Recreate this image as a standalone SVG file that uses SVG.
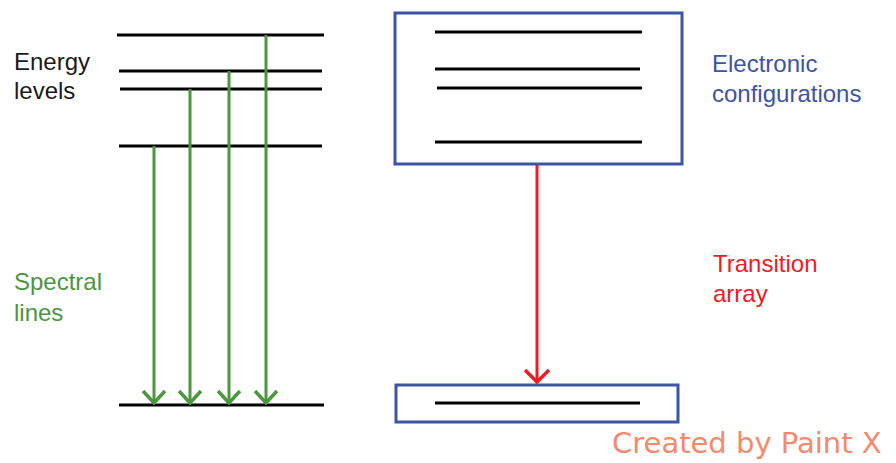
<svg xmlns="http://www.w3.org/2000/svg" width="896" height="463" viewBox="0 0 896 463">
<style>
.lvl{stroke:#000;stroke-width:3;fill:none}
.box{fill:#fff;stroke:#3b54a5;stroke-width:3}
.g{stroke:#4b963f;stroke-width:3;fill:none}
.r{stroke:#ee1c24;stroke-width:3;fill:none}
.t{font-family:"Liberation Sans",Arial,sans-serif;font-size:24px}
</style>
<defs>
<marker id="ag" markerWidth="24" markerHeight="16" refX="12" refY="14" markerUnits="userSpaceOnUse" orient="0">
<path d="M1,2 L12,14 L23,2" stroke="#4b963f" stroke-width="3.5" fill="none"/>
</marker>
<marker id="ar" markerWidth="26" markerHeight="16" refX="13" refY="14" markerUnits="userSpaceOnUse" orient="0">
<path d="M1,2 L13,14 L25,2" stroke="#ee1c24" stroke-width="3.5" fill="none"/>
</marker>
</defs>
<rect width="896" height="463" fill="#fff"/>
<g id="energy-levels">
<line class="lvl" x1="117" y1="35" x2="324" y2="35"/>
<line class="lvl" x1="119" y1="71" x2="322" y2="71"/>
<line class="lvl" x1="120" y1="89" x2="322" y2="89"/>
<line class="lvl" x1="119" y1="146" x2="322" y2="146"/>
<line class="lvl" x1="119" y1="405" x2="324" y2="405"/>
</g>
<g id="electronic-configurations">
<rect class="box" x="395" y="13" width="287" height="151"/>
<line class="lvl" x1="435" y1="32" x2="642" y2="32"/>
<line class="lvl" x1="435" y1="69" x2="640" y2="69"/>
<line class="lvl" x1="437" y1="88" x2="642" y2="88"/>
<line class="lvl" x1="435" y1="142" x2="642" y2="142"/>
</g>
<g id="lower-configuration">
<rect class="box" x="396" y="385" width="282" height="37"/>
<line class="lvl" x1="435" y1="403" x2="640" y2="403"/>
</g>
<g id="connectors">
<line class="g" x1="154" y1="146" x2="154" y2="403" marker-end="url(#ag)"/>
<line class="g" x1="190" y1="89" x2="190" y2="403" marker-end="url(#ag)"/>
<line class="g" x1="229" y1="71" x2="229" y2="403" marker-end="url(#ag)"/>
<line class="g" x1="266" y1="35" x2="266" y2="403" marker-end="url(#ag)"/>
<line class="r" x1="537" y1="165" x2="537" y2="382" marker-end="url(#ar)"/>
</g>
<g id="labels">
<text class="t" x="14" y="70" fill="#1a1a1a">Energy</text>
<text class="t" x="14" y="99" fill="#1a1a1a">levels</text>
<text class="t" x="14" y="290" fill="#4b963f">Spectral</text>
<text class="t" x="14" y="321" fill="#4b963f">lines</text>
<text class="t" x="712" y="72" fill="#3b54a5">Electronic</text>
<text class="t" x="712" y="102" fill="#3b54a5">configurations</text>
<text class="t" x="713" y="272" fill="#ee1c24">Transition</text>
<text class="t" x="713" y="302" fill="#ee1c24">array</text>
<text x="612" y="453" fill="#f5896c" font-family="'DejaVu Sans',Verdana,sans-serif" font-size="29">Created by Paint X</text>
</g>
</svg>
